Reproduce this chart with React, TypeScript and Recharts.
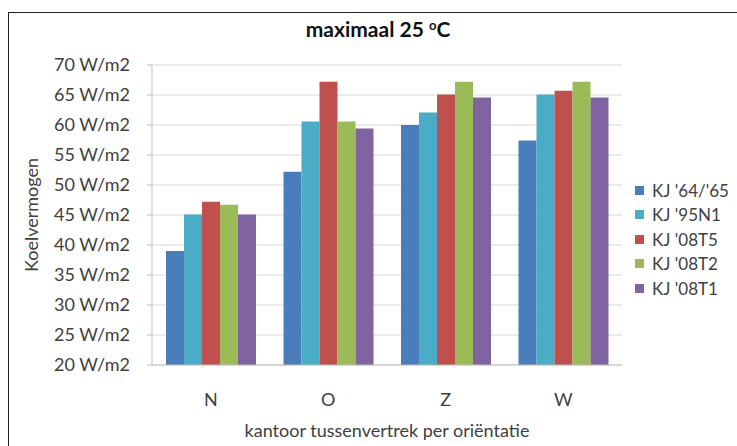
import React from 'react';
import { BarChart, Bar, XAxis, YAxis, CartesianGrid, Label } from 'recharts';

const categories = ['N', 'O', 'Z', 'W'];
const seriesNames = ["KJ '64/'65", "KJ '95N1", "KJ '08T5", "KJ '08T2", "KJ '08T1"];
const kj6465 = [39, 52.2, 60, 57.4];
const kj95n1 = [45.1, 60.6, 62.1, 65.1];
const kj08t5 = [47.2, 67.2, 65.1, 65.7];
const kj08t2 = [46.7, 60.6, 67.2, 67.2];
const kj08t1 = [45.1, 59.4, 64.6, 64.6];
const yTicks = [20, 25, 30, 35, 40, 45, 50, 55, 60, 65, 70];

const colors = ['#4a7ebb', '#4bacc6', '#c0504d', '#9bbb59', '#8064a2'];
const seriesKeys = ['s1', 's2', 's3', 's4', 's5'];
const seriesValues = [kj6465, kj95n1, kj08t5, kj08t2, kj08t1];

const data = categories.map((name, i) => {
  const row: Record<string, string | number> = { name };
  seriesKeys.forEach((k, j) => { row[k] = seriesValues[j][i]; });
  return row;
});

const font = 'Lato, "Open Sans", sans-serif';

export default function App() {
  return (
    <div style={{ position: 'absolute', left: 0, top: 0, width: 737, height: 446, background: '#fff', overflow: 'hidden' }}>
      <div style={{ position: 'absolute', left: 8, top: 12, width: 740, height: 440, borderTop: '1.5px solid #222', borderLeft: '1.5px solid #222' }} />
      <div style={{ position: 'absolute', left: 0, width: 756, top: 16, textAlign: 'center', fontFamily: font, fontWeight: 700, fontSize: 21, color: '#111' }}>
        maximaal 25 <sup style={{ fontSize: 13, verticalAlign: 'top', position: 'relative', top: 1 }}>o</sup>C
      </div>
      {/* legend drawn beside the plot, same order as the series */}
      <div style={{ position: 'absolute', left: 635, top: 178, fontFamily: font, fontSize: 17, color: '#404040' }}>
        {seriesNames.map((name, j) => (
          <div key={name} style={{ display: 'flex', alignItems: 'center', height: 24.5, whiteSpace: 'nowrap' }}>
            <span style={{ width: 9, height: 9, background: colors[j], display: 'inline-block', marginRight: 8 }} />
            {name}
          </div>
        ))}
      </div>
      <BarChart
        width={737}
        height={446}
        data={data}
        margin={{ top: 65, right: 115, left: 0, bottom: 0 }}
        barCategoryGap={14}
        barGap={0}
        style={{ fontFamily: font, position: 'absolute', left: 0, top: 0 }}
      >
        <CartesianGrid vertical={false} stroke="#d9d9d9" />
        <XAxis
          dataKey="name"
          height={81}
          axisLine={{ stroke: '#bfbfbf' }}
          tickLine={false}
          tickSize={6}
          tickMargin={22}
          tick={{ fill: '#404040', fontSize: 18 }}
        >
          <Label value="kantoor tussenvertrek per oriëntatie" position="insideBottom" offset={9} style={{ fill: '#404040', fontSize: 18, fontFamily: font }} />
        </XAxis>
        <YAxis
          width={152}
          domain={[20, 70]}
          ticks={yTicks}
          interval={0}
          allowDataOverflow
          axisLine={{ stroke: '#bfbfbf' }}
          tickLine={{ stroke: '#bfbfbf' }}
          tickSize={5}
          tickMargin={17}
          tickFormatter={(v: number) => `${v} W/m2`}
          tick={{ fill: '#404040', fontSize: 18 }}
        >
          <Label value="Koelvermogen" angle={-90} position="insideLeft" offset={32} style={{ textAnchor: 'middle', fill: '#404040', fontSize: 18, fontFamily: font }} />
        </YAxis>
        {seriesKeys.map((k, j) => (
          <Bar key={k} dataKey={k} name={seriesNames[j]} fill={colors[j]} isAnimationActive={false} />
        ))}
      </BarChart>
    </div>
  );
}
